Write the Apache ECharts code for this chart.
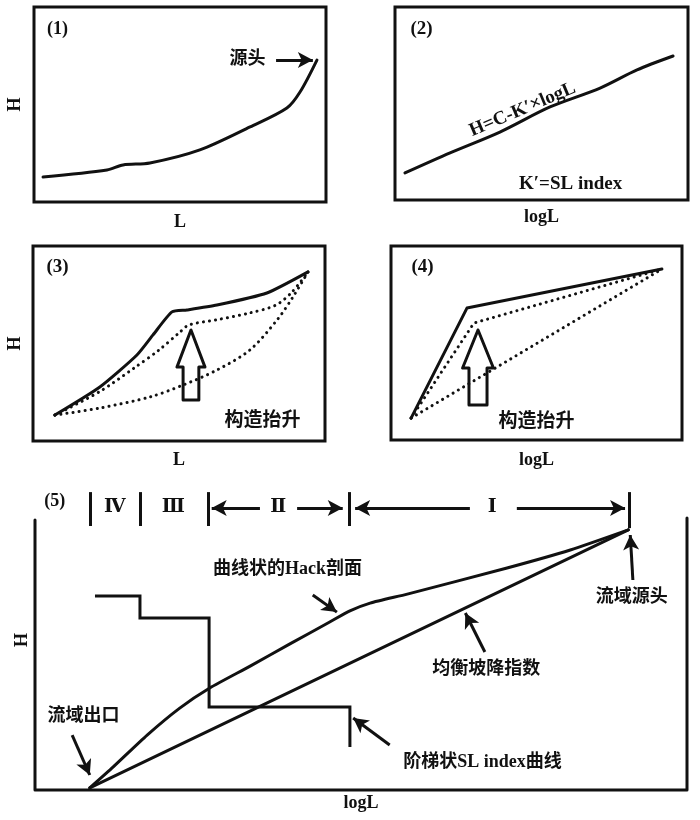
<!DOCTYPE html>
<html>
<head>
<meta charset="utf-8">
<script src="https://cdn.jsdelivr.net/npm/echarts@6/dist/echarts.min.js"></script>
<style>
html,body{margin:0;padding:0;background:#fff}
#main{width:700px;height:820px}
</style>
</head>
<body>
<div id="main"></div>
<script>
// every panel uses 0-100 on both axes (relative H and L)

// (1) H - L
var p1Curve = [[3.1,12.8],[25,16.4],[30.5,19.0],[39.7,20.0],[56.8,26.7],[74,38.5],[86.6,48.2],[91.1,56.4],[96.9,72.8]];
var p1Arrows = [[[82.9,72.8],[95.5,72.8]]];
var p1Names = ['(1)', '源头'];
var p1NamePos = [[8.2,88.2],[73.3,72.8]];

// (2) H - logL
var p2Line = [[3.4,14.0],[18.8,24.4],[35.8,35.2],[52.9,48.2],[70,58],[82.6,67.4],[94.9,74.6]];
var p2Names = ['(2)', 'K′=SL index'];
var p2NamePos = [[9.2,88.1],[60.1,7.8]];
var p2Formula = 'H=C-K′×logL';
var p2FormulaPos = [43.7,46.6];

// (3) tectonic uplift, H - L
var p3Solid = [[7.5,13.3],[22.9,27.7],[35.6,44.1],[41.1,54.4],[47.6,66.2],[52.7,67.2],[63,69.7],[80.1,75.9],[94.2,86.7]];
var p3DotUp = [[7.5,13.3],[22.9,25.4],[34.6,37.4],[43.2,46.7],[50.0,55.4],[53.4,59.5],[62.7,62.1],[74.0,65.6],[83.2,69.7],[88.7,76.4],[94.2,86.7]];
var p3DotLow = [[7.5,13.3],[22.9,16.9],[40.1,22.6],[51.4,28.7],[63,36.4],[74.3,46.7],[83.6,62.1],[89,73.8],[94.2,86.7]];
var p3Uplift = [[51.4,21.0],[56.8,21.0],[56.8,37.9],[58.9,37.9],[54.1,56.9],[49.3,37.9],[51.4,37.9],[51.4,21.0]];
var p3Names = ['(3)', '构造抬升'];
var p3NamePos = [[8.6,88.7],[78.8,9.7]];

// (4) tectonic uplift, H - logL
var p4Solid = [[6.9,11.3],[26.1,68.0],[93.1,88.1]];
var p4DotUp = [[6.9,11.3],[28.5,60.3],[93.1,88.1]];
var p4DotLow = [[6.9,11.3],[93.1,88.1]];
var p4Uplift = [[26.8,18.0],[33.0,18.0],[33.0,37.1],[35.2,37.1],[29.9,56.7],[24.6,37.1],[26.8,37.1],[26.8,18.0]];
var p4Names = ['(4)', '构造抬升'];
var p4NamePos = [[11,88.7],[50.2,8.8]];

// (5) Hack profile and SL index
var p5Frame = [[0,90],[0,0],[100,0],[100,90.7]];
var p5Hack = [[8.4,0.7],[12.0,7.7],[17.2,18.3],[22.2,27.3],[26.8,34.0],[33.0,41.3],[39.1,48.7],[45.2,56.0],[48.3,59.7],[51.4,62.3],[57.1,65.3],[72.4,74.0],[82.1,80.0],[91,86.7]];
var p5Equil = [[8.4,0.7],[91,86.7]];
var p5Steps = [[9.2,64.7],[16.1,64.7],[16.1,57.3],[26.7,57.3],[26.7,27.7],[48.3,27.7],[48.3,14.3]];
var p5SegTicks = [8.4, 16.1, 26.5, 48.2, 91.1];
var p5SegNames = ['Ⅳ', 'Ⅲ', 'Ⅱ', 'Ⅰ'];
var p5SegNameX = [12.3, 21.3, 37.4, 70.2];
var p5SegArrows = [
	[[34.5,94],[27.1,94]], [[40.2,94],[47.2,94]],
	[[66.7,94],[49.1,94]], [[73.9,94],[90.5,94]]
];
var p5Arrows = [
	[[42.6,65],[46.3,59.3]],
	[[5.7,18.3],[8.4,5]],
	[[91.7,70],[91.3,85]],
	[[69,46],[66,59]],
	[[54.4,15],[48.8,24]]
];
var p5Names = ['(5)', '曲线状的Hack剖面', '流域出口', '流域源头', '均衡坡降指数', '阶梯状SL index曲线'];
var p5NamePos = [[3.1,96],[38.8,73.3],[7.5,24.3],[91.6,64],[69.3,40],[68.7,9]];

var ink = '#111';
var fontFam = "'Liberation Serif', 'Noto Sans CJK SC', serif";
var romanFam = "'DejaVu Serif', 'Liberation Serif', serif";

var myChart = echarts.init(document.getElementById('main'));

var boxes = [
	{left: 34, top: 7, width: 292, height: 195},
	{left: 395, top: 7, width: 293, height: 193},
	{left: 33, top: 246, width: 292, height: 195},
	{left: 391, top: 246, width: 291, height: 194},
	{left: 35, top: 490, width: 652, height: 300}
];
var xNames = ['L', 'logL', 'L', 'logL', 'logL'];
var xGaps = [11, 8, 10, 11, 4];
var yNames = ['H', '', 'H', '', 'H'];
var yGaps = [10, 10, 9, 10, 4];

var grid = [], xAxis = [], yAxis = [];
for (var i = 0; i < boxes.length; i++) {
	grid.push({
		left: boxes[i].left, top: boxes[i].top, width: boxes[i].width, height: boxes[i].height,
		show: i < 4, borderColor: ink, borderWidth: 3, backgroundColor: '#fff',
		containLabel: false, outerBoundsMode: 'none'
	});
	var nameStyle = {color: ink, fontFamily: fontFam, fontWeight: 'bold', fontSize: 18};
	xAxis.push({
		gridIndex: i, type: 'value', min: 0, max: 100,
		name: xNames[i], nameLocation: 'middle', nameGap: xGaps[i], nameTextStyle: nameStyle,
		axisLine: {show: false}, axisTick: {show: false}, axisLabel: {show: false}, splitLine: {show: false}
	});
	yAxis.push({
		gridIndex: i, type: 'value', min: 0, max: 100,
		name: yNames[i], nameLocation: 'middle', nameGap: yGaps[i], nameTextStyle: nameStyle,
		axisLine: {show: false}, axisTick: {show: false}, axisLabel: {show: false}, splitLine: {show: false}
	});
}

function solidLine(gi, data, smooth, extra) {
	var s = {
		type: 'line', xAxisIndex: gi, yAxisIndex: gi, data: data, symbol: 'none',
		smooth: smooth, silent: true, clip: false,
		lineStyle: {color: ink, width: 3, cap: 'round', join: 'round'}
	};
	if (extra) {
		for (var k in extra) s[k] = extra[k];
	}
	return s;
}
function dottedLine(gi, data, smooth) {
	return {
		type: 'line', xAxisIndex: gi, yAxisIndex: gi, data: data, symbol: 'none',
		smooth: smooth, silent: true, clip: false,
		lineStyle: {color: ink, width: 3, type: [0.1, 6], cap: 'round'}
	};
}
function pairsToMark(pairs) {
	return pairs.map(function (p) {
		return [{coord: p[0]}, {coord: p[1]}];
	});
}
function arrowMark(pairs) {
	return {
		silent: true, animation: false,
		symbol: ['none', 'arrow'], symbolSize: [12, 15],
		label: {show: false},
		lineStyle: {color: ink, width: 3, type: 'solid', opacity: 1},
		emphasis: {disabled: true},
		data: pairsToMark(pairs)
	};
}
function textSeries(gi, names, pos, size, marks, family) {
	var s = {
		type: 'scatter', xAxisIndex: gi, yAxisIndex: gi, symbolSize: 1, silent: true, clip: false,
		itemStyle: {color: 'rgba(0,0,0,0)'},
		data: names.map(function (n, j) {
			return {name: n, value: pos[j]};
		}),
		label: {
			show: true, position: [0, 0], align: 'center', verticalAlign: 'middle', formatter: '{b}',
			color: ink, opacity: 1, textBorderWidth: 0, textBorderColor: 'transparent',
			fontFamily: family || fontFam, fontWeight: 'bold', fontSize: size
		}
	};
	if (marks) s.markLine = marks;
	return s;
}

var series = [];
// (1)
series.push(solidLine(0, p1Curve, 0.3));
series.push(textSeries(0, p1Names, p1NamePos, 18, arrowMark(p1Arrows)));
// (2)
series.push(solidLine(1, p2Line, 0.3));
series.push(textSeries(1, p2Names, p2NamePos, 19));
var formula = textSeries(1, [p2Formula], [p2FormulaPos], 19);
formula.label.rotate = 23;
series.push(formula);
// (3)
series.push(solidLine(2, p3Solid, 0.2));
series.push(dottedLine(2, p3DotUp, 0.3));
series.push(dottedLine(2, p3DotLow, 0.3));
series.push(solidLine(2, p3Uplift, false));
series.push(textSeries(2, p3Names, p3NamePos, 19));
// (4)
series.push(solidLine(3, p4Solid, false));
series.push(dottedLine(3, p4DotUp, false));
series.push(dottedLine(3, p4DotLow, false));
series.push(solidLine(3, p4Uplift, false));
series.push(textSeries(3, p4Names, p4NamePos, 19));
// (5)
var segTickPairs = p5SegTicks.map(function (x, j) {
	return [[x, 99.3], [x, j === p5SegTicks.length - 1 ? 87.3 : 88]];
});
series.push(solidLine(4, p5Frame, false, {
	markLine: {
		silent: true, animation: false, symbol: ['none', 'none'], label: {show: false},
		lineStyle: {color: ink, width: 3, type: 'solid'},
		data: pairsToMark(segTickPairs)
	}
}));
series.push(solidLine(4, p5Hack, 0.2));
series.push(solidLine(4, p5Equil, false));
series.push(solidLine(4, p5Steps, false, {lineStyle: {color: ink, width: 3, cap: 'butt', join: 'miter'}}));
series.push(textSeries(4, p5Names, p5NamePos, 18, arrowMark(p5Arrows.concat(p5SegArrows))));
series.push(textSeries(4, p5SegNames, p5SegNameX.map(function (x) { return [x, 94]; }), 19, null, romanFam));

var option = {
	backgroundColor: '#fff',
	animation: false,
	grid: grid,
	xAxis: xAxis,
	yAxis: yAxis,
	series: series
};
myChart.setOption(option);
</script>
</body>
</html>
